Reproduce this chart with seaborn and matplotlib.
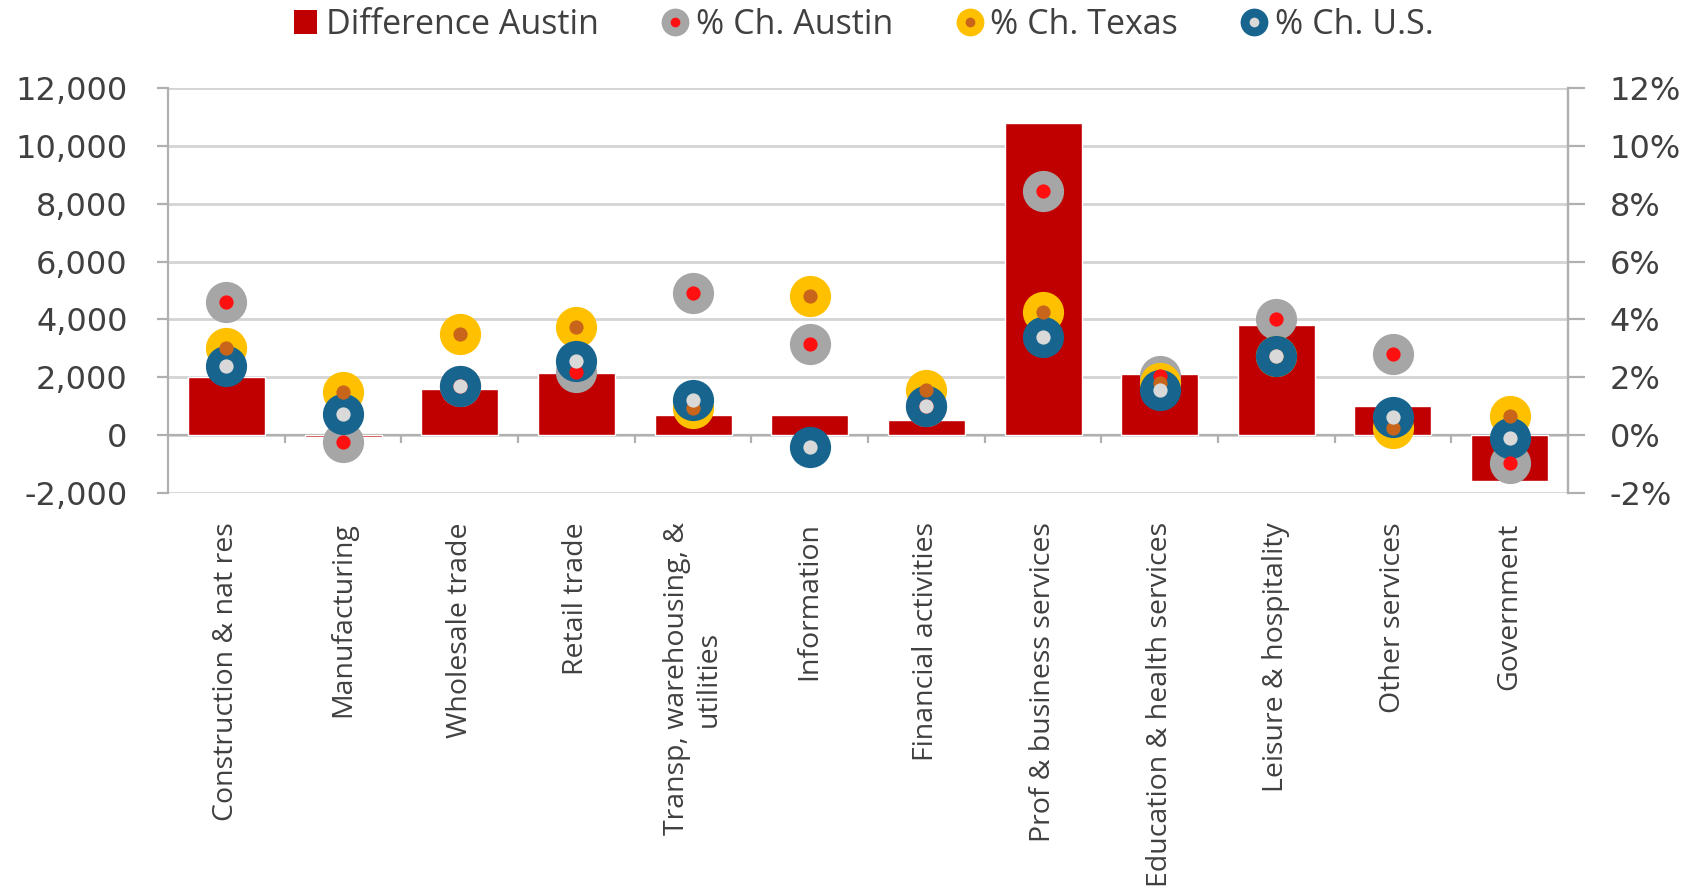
import numpy as np
import pandas as pd
import matplotlib
matplotlib.use("Agg")
import matplotlib.pyplot as plt
import seaborn as sns
from matplotlib.lines import Line2D
from matplotlib.patches import Patch
from matplotlib.legend_handler import HandlerTuple
from matplotlib.ticker import FuncFormatter, MultipleLocator

# ---- data -------------------------------------------------------------
categories = [
    "Construction & nat res", "Manufacturing", "Wholesale trade", "Retail trade",
    "Transp, warehousing, &\nutilities", "Information", "Financial activities",
    "Prof & business services", "Education & health services",
    "Leisure & hospitality", "Other services", "Government",
]
difference_austin = [2000, -60, 1600, 2150, 680, 690, 510, 10800, 2100, 3800, 1000, -1580]
pct_ch_austin = [4.6, -0.25, 1.7, 2.2, 4.9, 3.15, 1.0, 8.45, 2.05, 4.0, 2.8, -0.95]
pct_ch_texas = [3.0, 1.5, 3.5, 3.75, 0.95, 4.8, 1.55, 4.25, 1.8, 2.75, 0.25, 0.65]
pct_ch_us = [2.4, 0.72, 1.7, 2.58, 1.2, -0.42, 1.02, 3.4, 1.55, 2.75, 0.62, -0.1]

legend_labels = ["Difference Austin", "% Ch. Austin", "% Ch. Texas", "% Ch. U.S."]

# ---- styling ----------------------------------------------------------
sns.set_theme(style="white")
plt.rcParams["font.family"] = ["Open Sans", "DejaVu Sans"]

BAR = "#C00000"
GRID = "#D4D4D4"
AXIS = "#B0B0B0"
TEXT = "#404040"
series_style = [
    # (values, outer ring colour, centre colour)
    (pct_ch_austin, "#A6A6A6", "#FF1010"),
    (pct_ch_texas, "#FFC000", "#C8651B"),
    (pct_ch_us, "#17658E", "#D9D9D9"),
]
OUTER_S = 880
INNER_S = 105

df = pd.DataFrame({"sector": categories, "diff": difference_austin})
pos = np.arange(len(categories))

fig = plt.figure(figsize=(17, 8.92), dpi=100)
ax = fig.add_axes([168 / 1700, 1 - 493 / 892, 1400 / 1700, 405 / 892])

# bars on the left (absolute change) axis
sns.barplot(data=df, x="sector", y="diff", color=BAR, saturation=1,
            width=0.66, ax=ax, zorder=2)
ax.set_xlim(-0.5, len(categories) - 0.5)
ax.set_ylim(-2000, 12000)
ax.yaxis.set_major_locator(MultipleLocator(2000))
ax.yaxis.set_major_formatter(FuncFormatter(lambda v, _: f"{v:,.0f}"))
ax.set_xlabel("")
ax.set_ylabel("")
ax.grid(axis="y", color=GRID, linewidth=2)
ax.set_axisbelow(True)
ax.axhline(0, color=AXIS, linewidth=1.6, zorder=1)
# category separators hanging below the zero line
ax.vlines(np.arange(len(categories) - 1) + 0.5, -280, 0, color=AXIS,
          linewidth=1.6, zorder=1)

for side in ["top", "bottom"]:
    ax.spines[side].set_visible(False)
for side in ["left", "right"]:
    ax.spines[side].set_color(AXIS)
    ax.spines[side].set_linewidth(1.6)

ax.set_xticks(pos)
ax.set_xticklabels(categories, rotation=90, multialignment="center",
                   fontsize=20.5, color=TEXT)
ax.tick_params(axis="x", length=0, pad=21)
ax.tick_params(axis="y", length=8, width=1.6, color=AXIS, pad=21,
               labelsize=23, labelcolor=TEXT, left=True, direction="out")
for lab in ax.get_yticklabels():
    lab.set_family("DejaVu Sans")

# percentage markers on the right axis
ax2 = ax.twinx()
for vals, outer, inner in series_style:
    sns.scatterplot(x=pos, y=vals, s=OUTER_S, color=outer, linewidth=0,
                    ax=ax2, zorder=3, legend=False)
    sns.scatterplot(x=pos, y=vals, s=INNER_S, color=inner, linewidth=0,
                    ax=ax2, zorder=4, legend=False)
ax2.set_xlim(-0.5, len(categories) - 0.5)
ax2.set_ylim(-2, 12)
ax2.yaxis.set_major_locator(MultipleLocator(2))
ax2.yaxis.set_major_formatter(FuncFormatter(lambda v, _: f"{v:.0f}%"))
ax2.grid(False)
for side in ["top", "bottom", "left"]:
    ax2.spines[side].set_visible(False)
ax2.spines["right"].set_color(AXIS)
ax2.spines["right"].set_linewidth(1.6)
ax2.tick_params(axis="y", length=12, width=1.6, color=AXIS, pad=18,
                labelsize=23, labelcolor=TEXT, right=True, direction="out")
for lab in ax2.get_yticklabels():
    lab.set_family("DejaVu Sans")

# legend
handles = [Patch(facecolor=BAR, edgecolor="none")]
for _, outer, inner in series_style:
    handles.append((
        Line2D([], [], ls="", marker="o", markersize=20, markerfacecolor=outer,
               markeredgewidth=0),
        Line2D([], [], ls="", marker="o", markersize=7, markerfacecolor=inner,
               markeredgewidth=0),
    ))
fig.legend(handles, legend_labels, loc="center", bbox_to_anchor=(0.508, 0.972),
           ncol=4, frameon=False, fontsize=24.5, labelcolor=TEXT,
           handler_map={tuple: HandlerTuple(ndivide=1, pad=0)},
           handlelength=0.7, handleheight=0.7, handletextpad=0.25,
           columnspacing=1.9)

fig.savefig("out.png", dpi=100, facecolor="white")
